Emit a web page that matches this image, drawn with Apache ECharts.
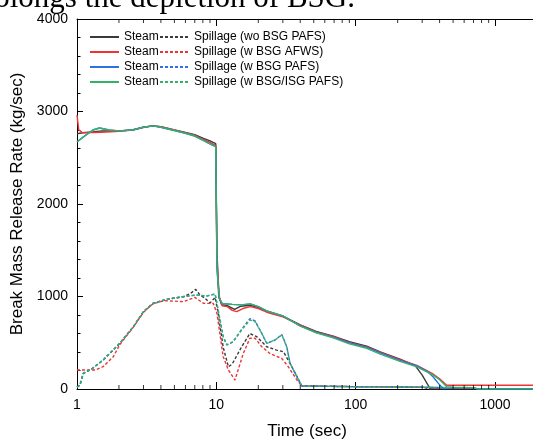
<!DOCTYPE html>
<html>
<head>
<meta charset="utf-8">
<script src="https://cdn.jsdelivr.net/npm/echarts@6/dist/echarts.min.js"></script>
<style>html,body{margin:0;padding:0;background:#fff;}#c{width:533px;height:441px;}</style>
</head>
<body>
<div id="c"></div>
<script>
// ---- data ----
var cases = ['wo BSG PAFS', 'w BSG AFWS', 'w BSG PAFS', 'w BSG/ISG PAFS'];
var colors = ['#3a3a3a', '#ee3535', '#2d72e0', '#35b068'];
var xTickLabels = [1, 10, 100, 1000];
var xMinorTicks = [2,3,4,5,6,7,8,9,20,30,40,50,60,70,80,90,200,300,400,500,600,700,800,900];

var steamWo = [[1,2760],[1.1,2770],[1.3,2780],[1.5,2790],[2,2790],[2.5,2800],[3,2830],[3.5,2845],[4,2835],[5,2800],[6,2775],[7,2750],[8,2712],[9,2682],[9.9,2652],[10.1,1500],[10.4,1000],[10.9,912],[12,900],[13.5,862],[15,895],[17.5,905],[20,880],[23,842],[30,788],[40,692],[52,622],[69,572],[90,512],[120,462],[150,402],[208,322],[267,252],[300,150],[343,0],[2000,0]];
var steamAfws = [[1,2960],[1.03,2800],[1.1,2770],[1.5,2775],[2,2785],[2.5,2800],[3,2830],[3.5,2845],[4,2835],[5,2800],[6,2770],[7,2745],[8,2700],[9,2665],[9.9,2632],[10.1,1400],[10.5,1000],[11,900],[12,890],[13,850],[14,836],[15.5,870],[17.5,890],[20,870],[23,830],[30,780],[40,690],[52,615],[69,568],[90,502],[120,456],[150,396],[208,316],[275,256],[361,160],[400,110],[450,40],[2000,40]];
var steamPafs = [[1,2670],[1.1,2720],[1.3,2800],[1.45,2822],[1.7,2800],[2,2790],[2.5,2800],[3,2830],[3.5,2845],[4,2830],[5,2795],[6,2765],[7,2735],[8,2690],[9,2650],[9.9,2620],[10.1,1300],[10.5,980],[11,925],[13,915],[15,910],[17.5,920],[20,890],[23,845],[30,790],[40,683],[52,612],[69,560],[90,498],[120,450],[150,390],[208,310],[275,250],[330,185],[360,130],[400,45],[424,5],[500,15],[700,15],[750,0],[2000,0]];
var steamIsg = [[1,2670],[1.1,2720],[1.3,2800],[1.45,2822],[1.7,2800],[2,2790],[2.5,2800],[3,2830],[3.5,2845],[4,2830],[5,2795],[6,2765],[7,2735],[8,2690],[9,2650],[9.9,2620],[10.1,1300],[10.5,980],[11,925],[13,915],[15,910],[17.5,920],[20,890],[23,845],[30,790],[40,680],[52,608],[69,553],[90,488],[120,440],[150,378],[208,298],[275,240],[361,150],[400,100],[450,25],[500,20],[700,15],[750,0],[2000,0]];

var spillWo = [[1,20],[1.05,43],[1.11,170],[1.27,215],[1.54,313],[2.03,494],[2.54,674],[3,836],[3.5,926],[4.4,969],[5.8,998],[6.5,1030],[7.1,1077],[7.6,1020],[8.3,980],[9,930],[9.8,990],[10.3,820],[11.2,450],[12.2,240],[13,270],[15.2,457],[17.4,600],[19.5,565],[23,457],[27,421],[30.3,403],[33.8,277],[37.9,133],[41,35],[100,25],[300,20],[343,0]];
var spillAfws = [[1,205],[1.35,205],[1.54,241],[1.82,349],[2.03,480],[2.54,670],[3,830],[3.5,920],[4.17,954],[5,950],[5.8,944],[7,991],[8.1,926],[9.5,926],[10.1,818],[11.2,349],[12.2,205],[13.6,97],[15.6,384],[17.4,548],[19,548],[21.2,457],[24.2,384],[29.5,330],[32.8,241],[37.9,97],[41,32],[100,25],[300,18],[450,12]];
var spillPafs = [[1,20],[1.05,43],[1.11,170],[1.27,215],[1.54,313],[2.03,494],[2.54,674],[3,836],[3.53,926],[4.4,969],[5.8,998],[7.2,1016],[8.5,1005],[9.8,1027],[10.3,854],[11.2,565],[11.9,476],[13.2,511],[15.2,645],[17.4,760],[19,735],[21.2,600],[23,494],[26.4,530],[29.5,590],[32,457],[33.8,277],[37.9,133],[41,32],[100,25],[300,20],[450,15]];
var spillIsg = [[1,20],[1.05,43],[1.11,170],[1.27,215],[1.54,313],[2.03,494],[2.54,674],[3,836],[3.53,926],[4.4,969],[5.8,998],[7.2,1016],[8.5,1005],[9.8,1027],[10.3,854],[11.2,565],[11.9,476],[13.2,511],[15.2,638],[17.4,746],[19,728],[21.2,600],[23,494],[26.4,530],[29.5,584],[32,457],[33.8,277],[37.9,133],[41,32],[100,25],[300,20],[450,15]];

var steamData = [steamWo, steamAfws, steamPafs, steamIsg];
var spillData = [spillWo, spillAfws, spillPafs, spillIsg];

// ---- chart ----
var FONT = 'Liberation Sans, Arial, sans-serif';
var series = [];
var steamNames = [], spillNames = [];
for (var i = 0; i < 4; i++) {
  steamNames.push('Steam (' + cases[i] + ')');
  spillNames.push('Spillage (' + cases[i] + ')');
}
for (var i = 0; i < 4; i++) {
  series.push({
    name: steamNames[i], type: 'line', data: steamData[i], symbol: 'none',
    lineStyle: {color: colors[i], width: 1.4}, itemStyle: {color: colors[i]}, z: 3 + i
  });
}
for (var i = 0; i < 4; i++) {
  series.push({
    name: spillNames[i], type: 'line', data: spillData[i], symbol: 'none',
    lineStyle: {color: colors[i], width: 1.4, type: [3, 2]}, itemStyle: {color: colors[i]}, z: 3 + i
  });
}
// minor ticks of the log axis (bottom and top, inward)
series.push({
  type: 'scatter', silent: true, clip: false, symbol: 'rect', symbolSize: [1, 4], symbolOffset: [0, -2],
  itemStyle: {color: '#000'}, data: xMinorTicks.map(function (v) { return [v, 0]; }), z: 10
});
series.push({
  type: 'scatter', silent: true, clip: false, symbol: 'rect', symbolSize: [1, 4], symbolOffset: [0, 2],
  itemStyle: {color: '#000'}, data: xMinorTicks.map(function (v) { return [v, 4000]; }), z: 10
});

var legendItemStyle = {color: 'transparent', borderColor: 'transparent', borderWidth: 0, opacity: 0};
var chart = echarts.init(document.getElementById('c'), null, {renderer: 'canvas'});
chart.setOption({
  animation: false,
  backgroundColor: '#fff',
  graphic: [{
    type: 'text', x: 355, y: 14,
    style: {text: 'prolongs the depletion of BSG.', font: '31px "Liberation Serif", "Times New Roman", serif',
      fill: '#000', align: 'right', verticalAlign: 'bottom'}
  }],
  legend: [{
    orient: 'vertical', left: 89, top: 31, padding: 0, itemWidth: 29, itemHeight: 12, itemGap: 3,
    data: steamNames, formatter: function () { return 'Steam'; }, itemStyle: legendItemStyle,
    textStyle: {fontFamily: FONT, fontSize: 12, color: '#000'}, selectedMode: false
  }, {
    orient: 'vertical', left: 159, top: 31, padding: 0, itemWidth: 29, itemHeight: 12, itemGap: 3,
    data: spillNames, itemStyle: legendItemStyle,
    textStyle: {fontFamily: FONT, fontSize: 12, color: '#000'}, selectedMode: false
  }],
  grid: {left: 77, top: 19, right: -4, bottom: 52, containLabel: false, outerBoundsMode: 'none'},
  xAxis: [{
    type: 'log', logBase: 10, min: 1, max: 2000, position: 'bottom',
    name: 'Time (sec)', nameLocation: 'middle', nameGap: 34,
    nameTextStyle: {fontFamily: FONT, fontSize: 17, color: '#000'},
    axisLine: {lineStyle: {color: '#000', width: 1}},
    axisTick: {inside: true, length: 7, lineStyle: {color: '#000'}},
    axisLabel: {fontFamily: FONT, fontSize: 14, color: '#000', margin: 9, showMaxLabel: false,
      formatter: function (v) { return xTickLabels.indexOf(v) >= 0 ? String(v) : ''; }},
    splitLine: {show: false}
  }, {
    type: 'log', logBase: 10, min: 1, max: 2000, position: 'top',
    axisLine: {lineStyle: {color: '#000', width: 1}},
    axisTick: {inside: true, length: 7, lineStyle: {color: '#000'}},
    axisLabel: {show: false}, splitLine: {show: false}
  }],
  yAxis: [{
    type: 'value', min: 0, max: 4000, interval: 1000,
    name: 'Break Mass Release Rate (kg/sec)', nameLocation: 'middle', nameGap: 43,
    nameTextStyle: {fontFamily: FONT, fontSize: 17, color: '#000'},
    axisLine: {show: true, lineStyle: {color: '#000', width: 1}},
    axisTick: {show: true, inside: true, length: 6, lineStyle: {color: '#000'}},
    minorTick: {show: true, splitNumber: 5, length: 3.5, lineStyle: {color: '#000'}},
    axisLabel: {fontFamily: FONT, fontSize: 14, color: '#000', margin: 9,
      formatter: function (v) { return String(v); }},
    splitLine: {show: false}
  }],
  series: series
});
</script>
</body>
</html>
